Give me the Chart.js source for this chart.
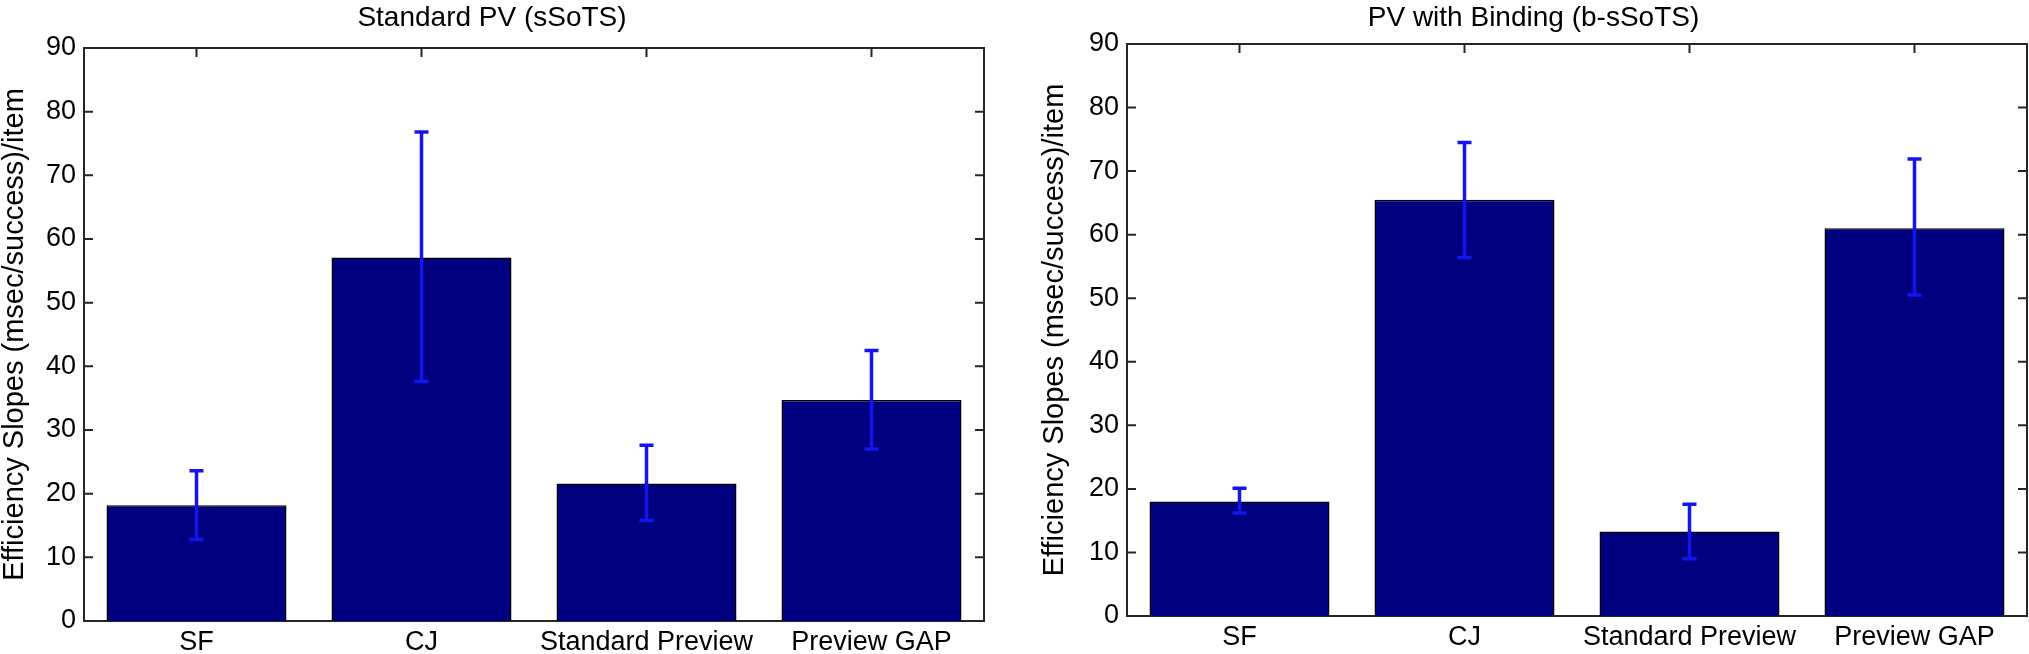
<!DOCTYPE html>
<html>
<head>
<meta charset="utf-8">
<script src="https://cdn.jsdelivr.net/npm/chart.js@4/dist/chart.umd.min.js"></script>
<style>
  html, body { margin: 0; padding: 0; background: #fff; }
  body { width: 2029px; height: 654px; position: relative; overflow: hidden; }
  .panel { position: absolute; top: 0; height: 654px; }
  #panelIzq { left: 0; width: 1010px; }
  #panelDer { left: 1010px; width: 1019px; }
</style>
</head>
<body>
<div class="panel" id="panelIzq"><canvas id="graficoIzq"></canvas></div>
<div class="panel" id="panelDer"><canvas id="graficoDer"></canvas></div>
<script>
// Categorías y valores
const categorias = ['SF', 'CJ', 'Standard Preview', 'Preview GAP'];
const ticksY = [0, 10, 20, 30, 40, 50, 60, 70, 80, 90];

// Standard PV (sSoTS)
const mediasSSoTS = [18.2, 57.1, 21.6, 34.7];
const errorBajoSSoTS = [12.8, 37.6, 15.8, 27.0];
const errorAltoSSoTS = [23.6, 76.8, 27.6, 42.5];

// PV with Binding (b-sSoTS)
const mediasBSSoTS = [18.0, 65.5, 13.3, 61.0];
const errorBajoBSSoTS = [16.2, 56.4, 9.0, 50.5];
const errorAltoBSSoTS = [20.1, 74.5, 17.6, 71.9];

const fuente = 'Liberation Sans, Arial, sans-serif';
const colorEje = '#262626';

//Plugin para las barras de error (usa la escala y del gráfico).
const barrasError = {
    id: 'barrasError',
    afterDatasetsDraw(chart, args, opts) {
        const ctx = chart.ctx;
        const meta = chart.getDatasetMeta(0);
        const y = chart.scales.y;
        ctx.save();
        ctx.strokeStyle = '#1414ee';
        ctx.lineWidth = 3.5;
        meta.data.forEach((barra, i) => {
            const yBajo = y.getPixelForValue(opts.bajo[i]);
            const yAlto = y.getPixelForValue(opts.alto[i]);
            ctx.beginPath();
            ctx.moveTo(barra.x, yBajo);
            ctx.lineTo(barra.x, yAlto);
            ctx.moveTo(barra.x - 7, yAlto);
            ctx.lineTo(barra.x + 7, yAlto);
            ctx.moveTo(barra.x - 7, yBajo);
            ctx.lineTo(barra.x + 7, yBajo);
            ctx.stroke();
        });
        ctx.restore();
    }
};

//Plugin para las marcas interiores del recuadro (estilo MATLAB).
const marcasInternas = {
    id: 'marcasInternas',
    beforeDatasetsDraw(chart) {
        const ctx = chart.ctx;
        const area = chart.chartArea;
        const x = chart.scales.x;
        const y = chart.scales.y;
        ctx.save();
        ctx.strokeStyle = colorEje;
        ctx.lineWidth = 2;
        ctx.beginPath();
        ticksY.forEach(v => {
            const py = y.getPixelForValue(v);
            ctx.moveTo(area.left, py);
            ctx.lineTo(area.left + 9, py);
            ctx.moveTo(area.right, py);
            ctx.lineTo(area.right - 9, py);
        });
        categorias.forEach((c, i) => {
            const px = x.getPixelForValue(i);
            ctx.moveTo(px, area.top);
            ctx.lineTo(px, area.top + 9);
        });
        ctx.stroke();
        ctx.restore();
    }
};

//Función para crear cada panel.
function creacionGrafico(idCanvas, titulo, medias, bajo, alto, conf) {
    const ctx = document.getElementById(idCanvas).getContext('2d');
    return new Chart(ctx, {
        type: 'bar',
        data: {
            labels: categorias,
            datasets: [{
                data: medias,
                backgroundColor: '#000080',
                borderColor: '#000000',
                borderWidth: 1.5,
                barPercentage: 0.8,
                categoryPercentage: 1.0
            }]
        },
        options: {
            responsive: true,
            maintainAspectRatio: false,
            animation: false,
            events: [],
            layout: { padding: { left: conf.izq, right: conf.der, top: 0, bottom: 0 } },
            plugins: {
                legend: { display: false },
                tooltip: { enabled: false },
                title: {
                    display: true,
                    text: titulo,
                    color: '#000',
                    font: { family: fuente, size: 28, weight: 'normal', lineHeight: 1 },
                    padding: { top: 4, bottom: conf.tituloAbajo }
                },
                barrasError: { bajo: bajo, alto: alto }
            },
            scales: {
                x: {
                    position: 'bottom',
                    grid: { display: false, drawTicks: false },
                    border: { display: true, color: colorEje, width: 2 },
                    ticks: {
                        color: '#000',
                        padding: 5,
                        maxRotation: 0,
                        autoSkip: false,
                        font: { family: fuente, size: 27 }
                    },
                    afterFit: s => { s.height = conf.altoX; }
                },
                x2: {
                    position: 'top',
                    type: 'category',
                    labels: categorias,
                    grid: { display: false, drawTicks: false },
                    border: { display: true, color: colorEje, width: 2 },
                    ticks: { display: false },
                    afterFit: s => { s.height = 0; }
                },
                y: {
                    position: 'left',
                    min: 0,
                    max: 90,
                    grid: { display: false, drawTicks: false },
                    border: { display: true, color: colorEje, width: 2 },
                    ticks: {
                        stepSize: 10,
                        color: '#000',
                        padding: 8,
                        font: { family: fuente, size: 27 }
                    },
                    title: {
                        display: true,
                        text: 'Efficiency Slopes (msec/success)/item',
                        color: '#000',
                        padding: 0,
                        font: { family: fuente, size: 29, lineHeight: 1 }
                    },
                    afterFit: s => { s.width = conf.anchoY; }
                },
                y2: {
                    position: 'right',
                    min: 0,
                    max: 90,
                    grid: { display: false, drawTicks: false },
                    border: { display: true, color: colorEje, width: 2 },
                    ticks: { display: false },
                    afterFit: s => { s.width = 0; }
                }
            }
        },
        plugins: [marcasInternas, barrasError]
    });
}

creacionGrafico('graficoIzq', 'Standard PV (sSoTS)', mediasSSoTS, errorBajoSSoTS, errorAltoSSoTS,
    { izq: 0, der: 26, anchoY: 84, altoX: 33, tituloAbajo: 16 });
creacionGrafico('graficoDer', 'PV with Binding (b-sSoTS)', mediasBSSoTS, errorBajoBSSoTS, errorAltoBSSoTS,
    { izq: 30, der: 2, anchoY: 87, altoX: 38, tituloAbajo: 12 });
</script>
</body>
</html>
